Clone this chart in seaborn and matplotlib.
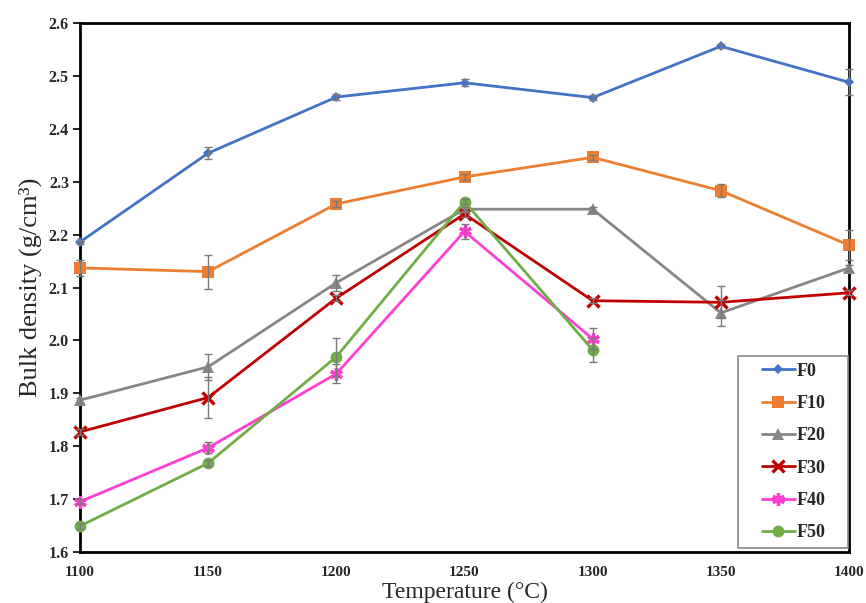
import numpy as np
import pandas as pd
import seaborn as sns
import matplotlib
matplotlib.use("Agg")
import matplotlib.pyplot as plt
from matplotlib.patches import Rectangle

# Firing temperature (°C) and bulk density (g/cm3) for each mix
temps_full = [1100, 1150, 1200, 1250, 1300, 1350, 1400]
temps_short = [1100, 1150, 1200, 1250, 1300]

f0 = [2.186, 2.354, 2.460, 2.487, 2.459, 2.556, 2.488]
f10 = [2.137, 2.130, 2.258, 2.309, 2.346, 2.283, 2.180]
f20 = [1.887, 1.950, 2.109, 2.248, 2.248, 2.052, 2.137]
f30 = [1.827, 1.892, 2.080, 2.239, 2.075, 2.072, 2.090]
f40 = [1.695, 1.797, 1.937, 2.206, 2.003]
f50 = [1.649, 1.768, 1.969, 2.262, 1.982]

# standard deviations
f0_err = [0.004, 0.012, 0.006, 0.007, 0.004, 0.004, 0.025]
f10_err = [0.015, 0.032, 0.005, 0.005, 0.005, 0.012, 0.028]
f20_err = [0.005, 0.025, 0.015, 0.005, 0.005, 0.025, 0.005]
f30_err = [0.005, 0.038, 0.005, 0.005, 0.005, 0.030, 0.005]
f40_err = [0.005, 0.010, 0.018, 0.014, 0.020]
f50_err = [0.005, 0.005, 0.036, 0.005, 0.023]

series_names = ["F0", "F10", "F20", "F30", "F40", "F50"]
x_ticks = [1100, 1150, 1200, 1250, 1300, 1350, 1400]
y_ticks = [1.6, 1.7, 1.8, 1.9, 2.0, 2.1, 2.2, 2.3, 2.4, 2.5, 2.6]

series = {
    "F0": (temps_full, f0, f0_err),
    "F10": (temps_full, f10, f10_err),
    "F20": (temps_full, f20, f20_err),
    "F30": (temps_full, f30, f30_err),
    "F40": (temps_short, f40, f40_err),
    "F50": (temps_short, f50, f50_err),
}

rows = []
for name in series_names:
    xs, ys, es = series[name]
    for t, v, e in zip(xs, ys, es):
        rows.append({"Temperature": t, "Density": v, "SD": e, "Mix": name})
df = pd.DataFrame(rows)

styles = {
    "F0": dict(color="#4472C4", marker="D", markersize=5, mew=0),
    "F10": dict(color="#ED7D31", marker="s", markersize=9, mew=0),
    "F20": dict(color="#878787", marker="^", markersize=8, mew=0),
    "F30": dict(color="#C00000", marker="x", markersize=8, mew=2.4),
    "F40": dict(color="#FF3FD0", marker=(6, 2, 0), markersize=9, mew=2.4),
    "F50": dict(color="#70AD47", marker="o", markersize=8.5, mew=0),
}

sns.set_style("white")
plt.rcParams["font.family"] = ["Liberation Serif", "DejaVu Serif"]

W, H = 866, 603
L, R, T, B = 80, 849, 23, 552
fig = plt.figure(figsize=(W / 100, H / 100), dpi=100)
ax = fig.add_axes([L / W, 1 - B / H, (R - L) / W, (B - T) / H])

for name in series_names:
    sub = df[df["Mix"] == name]
    st = styles[name]
    ax.errorbar(sub["Temperature"], sub["Density"], yerr=sub["SD"], fmt="none",
                ecolor="#7a7a7a", elinewidth=1.0, capsize=3.2, capthick=1.0,
                zorder=4, clip_on=False)
    sns.lineplot(data=sub, x="Temperature", y="Density", ax=ax, label=name,
                 color=st["color"], marker=st["marker"], markersize=st["markersize"],
                 markeredgewidth=st["mew"], markeredgecolor=st["color"],
                 linewidth=2.0, errorbar=None, zorder=3, clip_on=False)

ax.set_xlim(1100, 1400)
ax.set_ylim(1.6, 2.6)
ax.set_xticks(x_ticks)
ax.set_yticks(y_ticks)
ax.set_xticklabels([str(t) for t in x_ticks], fontweight="bold", fontsize=11)
ax.set_yticklabels([f"{v:.1f}" for v in y_ticks], fontweight="bold", fontsize=11.5)
ax.tick_params(axis="x", length=0, pad=10)
ax.tick_params(axis="y", direction="out", length=5, width=1.2, color="black", pad=3, left=True)

for side in ["left", "bottom", "right", "top"]:
    ax.spines[side].set_visible(True)
    ax.spines[side].set_color("black")
    ax.spines[side].set_linewidth(2.0)

ax.set_xlabel("Temperature (°C)", fontsize=17, labelpad=2)
ax.set_ylabel("Bulk density (g/cm³)", fontsize=19, labelpad=5)
ax.grid(False)


def ax_x(px):
    return (px - L) / (R - L)


def ax_y(py):
    return (B - py) / (B - T)


# legend box
box = Rectangle((ax_x(738), ax_y(548)), ax_x(848) - ax_x(738), ax_y(356) - ax_y(548),
                transform=ax.transAxes, facecolor="white", edgecolor="#8a8a8a",
                linewidth=1.2, zorder=9, clip_on=False)
ax.add_patch(box)

handles, labels = ax.get_legend_handles_labels()
leg = ax.legend(handles, labels, loc="center",
                bbox_to_anchor=(ax_x(794), ax_y(452)),
                borderaxespad=0, borderpad=0, frameon=False,
                prop={"family": "Liberation Serif", "weight": "bold", "size": 13},
                handlelength=1.8, handletextpad=0.12, labelspacing=0.85)
leg.set_zorder(10)

fig.savefig("out.png", dpi=100, facecolor="white")
